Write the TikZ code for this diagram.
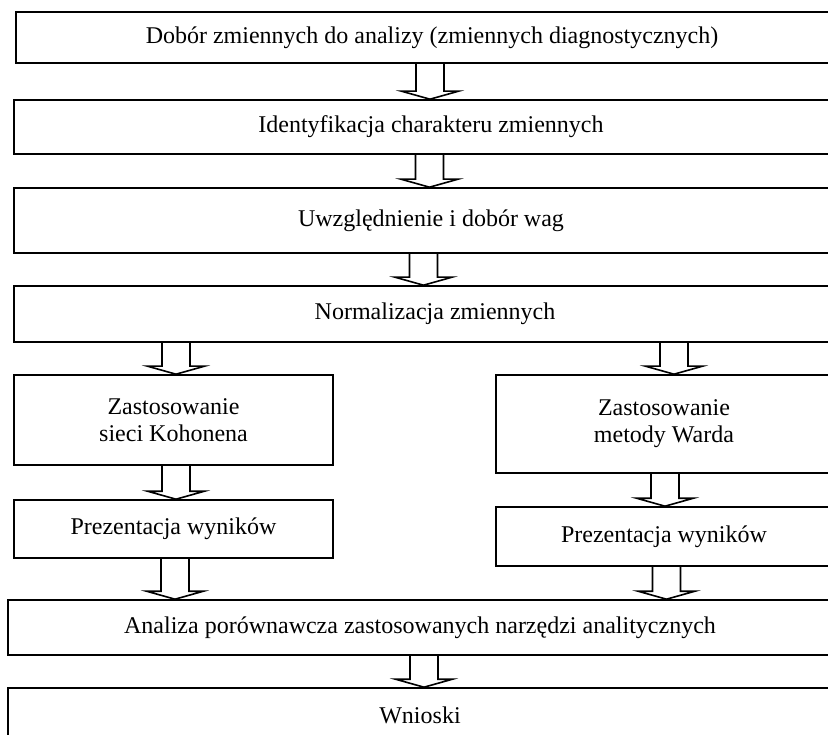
\documentclass[tikz,border=0pt]{standalone}
\usepackage{fontspec}
\setmainfont{Liberation Serif}
\usetikzlibrary{calc}
\tikzset{
    etap/.style={
        draw,
        rectangle,
        line width=1.6pt,
        inner sep=0pt,
        align=center,
        font=\fontsize{24}{27}\selectfont
    },
    strzalka/.style={
        draw,
        line width=1.6pt
    }
}
% strzalka blokowa: od wezla #1 do wezla #2, os na x=#3
\newcommand{\blokstrzalka}[3]{%
    \draw[strzalka] let \p1 = (#1.south), \p2 = (#2.north) in
        (#3pt-14pt, \y1) -- (#3pt-14pt, \y2+8pt) -- (#3pt-28.5pt, \y2+8pt)
        -- (#3pt, \y2) -- (#3pt+28.5pt, \y2+8pt) -- (#3pt+14pt, \y2+8pt)
        -- (#3pt+14pt, \y1);
}

\begin{document}
\begin{tikzpicture}[
    x=1pt,
    y=-1pt
]
    \useasboundingbox (0,0) rectangle (828,735);

    % Etapy
    \node[etap, minimum width=832, minimum height=51] (dobor) at (432,37.5)
        {Dobór zmiennych do analizy (zmiennych diagnostycznych)};

    \node[etap, minimum width=834, minimum height=54] (ident) at (431,127)
        {Identyfikacja charakteru zmiennych};

    \node[etap, minimum width=834, minimum height=65] (wagi) at (431,220.5)
        {Uwzględnienie i dobór wag};

    \node[etap, minimum width=842, minimum height=56] (norm) at (435,314)
        {Normalizacja zmiennych};

    % Dwie galezie
    \node[etap, minimum width=319, minimum height=90] (kohonen) at (173.5,420)
        {Zastosowanie\\sieci Kohonena};

    \node[etap, minimum width=336, minimum height=98] (ward) at (664,424)
        {Zastosowanie\\metody Warda};

    \node[etap, minimum width=319, minimum height=58] (wynikiK) at (173.5,529)
        {Prezentacja wyników};

    \node[etap, minimum width=336, minimum height=59] (wynikiW) at (664,536.5)
        {Prezentacja wyników};

    % Porownanie i wnioski
    \node[etap, minimum width=824, minimum height=55] (analiza) at (420,627.5)
        {Analiza porównawcza zastosowanych narzędzi analitycznych};

    \node[etap, minimum width=824, minimum height=54] (wnioski) at (420,715)
        {Wnioski};

    % Strzalki
    \blokstrzalka{dobor}{ident}{430}
    \blokstrzalka{ident}{wagi}{429.5}
    \blokstrzalka{wagi}{norm}{423.5}
    \blokstrzalka{norm}{kohonen}{176}
    \blokstrzalka{norm}{ward}{674}
    \blokstrzalka{kohonen}{wynikiK}{176}
    \blokstrzalka{ward}{wynikiW}{665}
    \blokstrzalka{wynikiK}{analiza}{175}
    \blokstrzalka{wynikiW}{analiza}{666.5}
    \blokstrzalka{analiza}{wnioski}{424}

\end{tikzpicture}
\end{document}
